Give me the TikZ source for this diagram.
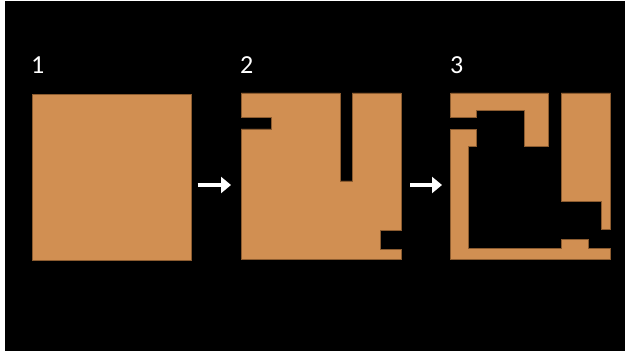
\documentclass[tikz,border=0pt]{standalone}
\usepackage{fontspec}
\setmainfont{Carlito}
\usetikzlibrary{arrows.meta}
\definecolor{clay}{RGB}{209,143,82}
\definecolor{clayedge}{RGB}{140,92,48}
\tikzset{
  piece/.style={fill=clay, draw=clayedge, line width=0.5pt},
  steplabel/.style={text=white, font=\fontsize{26}{30}\selectfont, anchor=base west, inner sep=0pt},
  nextarrow/.style={draw=white, line width=4pt, -{Triangle[length=10pt,width=16pt]}}
}
\begin{document}
\begin{tikzpicture}[x=1pt,y=-1pt]
\useasboundingbox (0,0) rectangle (625,353);
\fill[white] (0,0) rectangle (625,353);
\fill[black] (4.5,1) rectangle (625,351);
% labels
\node[steplabel] (l1) at (31,74) {1};
\node[steplabel] (l2) at (240,74) {2};
\node[steplabel] (l3) at (450,74) {3};
% square 1
\draw[piece] (32,94) rectangle (191.5,260.5);
% square 2
\draw[piece] (241,93) -- (340,93) -- (340,181) -- (352,181) -- (352,93) -- (401,93)
  -- (401,230) -- (380,230) -- (380,249) -- (401,249) -- (401,259.5) -- (241,259.5)
  -- (241,129) -- (271,129) -- (271,117) -- (241,117) -- cycle;
% square 3
\draw[piece] (450.7,93) -- (548.7,93) -- (548.7,146) -- (524,146) -- (524,110.3)
  -- (476.7,110.3) -- (476.7,117.3) -- (450.7,117.3) -- cycle;
\draw[piece] (561,93) -- (610.7,93) -- (610.7,229.3) -- (601,229.3) -- (601,201.7)
  -- (561,201.7) -- cycle;
\draw[piece] (450.7,129.3) -- (476.7,129.3) -- (476.7,146) -- (468.7,146) -- (468.7,248.7)
  -- (561,248.7) -- (561,239) -- (588.7,239) -- (588.7,248.7) -- (610.7,248.7)
  -- (610.7,259.7) -- (450.7,259.7) -- cycle;
% arrows
\coordinate (a1s) at (197.5,185);
\coordinate (a1e) at (231,185);
\coordinate (a2s) at (410,185);
\coordinate (a2e) at (442,185);
\draw[nextarrow] (a1s) -- (a1e);
\draw[nextarrow] (a2s) -- (a2e);
\end{tikzpicture}
\end{document}
